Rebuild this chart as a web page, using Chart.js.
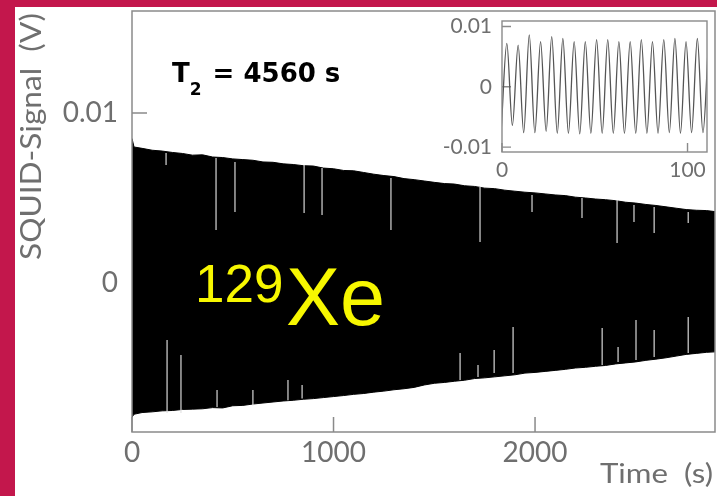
<!DOCTYPE html>
<html>
<head>
<meta charset="utf-8">
<script src="https://cdn.jsdelivr.net/npm/chart.js@4.4.1/dist/chart.umd.min.js"></script>
<style>
  html, body { margin: 0; padding: 0; background: #c3174c; }
  #page { position: absolute; left: 15px; top: 7px; width: 702px; height: 489px; background: #fff; }
  #main { position: absolute; left: 0; top: 0; }
  #inset { position: absolute; left: 430px; top: 8px; }
</style>
</head>
<body>
<div id="page"></div>
<canvas id="main" width="717" height="496"></canvas>
<canvas id="inset" width="287" height="180"></canvas>
<script>
// Enveloppe du signal, en secondes / volts
const envTime = [0, 10, 50, 100, 150, 200, 250, 300, 350, 400, 450, 500, 550, 600, 650, 700, 750, 800, 850, 900,
  950, 1000, 1050, 1100, 1150, 1200, 1250, 1300, 1350, 1400, 1450, 1500, 1550, 1600, 1650, 1700, 1750, 1800, 1850,
  1900, 1950, 2000, 2050, 2100, 2150, 2200, 2250, 2300, 2350, 2400, 2450, 2500, 2550, 2600, 2650, 2700, 2750, 2800,
  2850, 2893];
const envUpper = [0.0085, 0.0080, 0.00792, 0.00781, 0.00776, 0.00768, 0.00762, 0.00752, 0.00754, 0.00741, 0.00738,
  0.00730, 0.00726, 0.00722, 0.00712, 0.00710, 0.00701, 0.00697, 0.00690, 0.00688, 0.00676, 0.00672, 0.00662,
  0.00660, 0.00650, 0.00640, 0.00632, 0.00626, 0.00614, 0.00608, 0.00600, 0.00592, 0.00585, 0.00582, 0.00572,
  0.00568, 0.00558, 0.00555, 0.00546, 0.00540, 0.00534, 0.00530, 0.00524, 0.00518, 0.00514, 0.00505, 0.00500,
  0.00494, 0.00490, 0.00484, 0.00475, 0.00470, 0.00462, 0.00456, 0.00448, 0.00440, 0.00432, 0.00428, 0.00426,
  0.00420];
const envLower = [-0.0079, -0.00772, -0.00762, -0.00758, -0.00752, -0.00750, -0.00744, -0.00742, -0.00740, -0.00733,
  -0.00735, -0.00722, -0.00720, -0.00712, -0.00706, -0.00700, -0.00694, -0.00690, -0.00684, -0.00680, -0.00674,
  -0.00668, -0.00662, -0.00655, -0.00650, -0.00642, -0.00636, -0.00628, -0.00622, -0.00614, -0.00600, -0.00590,
  -0.00585, -0.00578, -0.00572, -0.00562, -0.00558, -0.00552, -0.00546, -0.00540, -0.00530, -0.00526, -0.00520,
  -0.00514, -0.00508, -0.00500, -0.00496, -0.00490, -0.00485, -0.00476, -0.00470, -0.00464, -0.00455, -0.00448,
  -0.00440, -0.00430, -0.00420, -0.00414, -0.00408, -0.00405];

// Trous blancs dans le signal : temps, début, fin
const dropTime = [169, 417, 511, 854, 943, 1285, 1727, 1985, 2233, 2407, 2491, 2591, 2760,
  174, 243, 422, 600, 774, 844, 1628, 1717, 1797, 1891, 2333, 2412, 2501, 2591, 2760];
const dropFrom = [0.00765, 0.00735, 0.00712, 0.00694, 0.00676, 0.00618, 0.00565, 0.00518, 0.0050, 0.00488, 0.00459, 0.00447, 0.00418,
  -0.00335, -0.00424, -0.0063, -0.0063, -0.0057, -0.0060, -0.00412, -0.00482, -0.00394, -0.00259, -0.00265, -0.00376, -0.00218, -0.00276, -0.0020];
const dropTo = [0.00694, 0.00312, 0.00418, 0.00412, 0.0040, 0.00312, 0.00241, 0.00418, 0.00382, 0.00235, 0.00359, 0.00294, 0.00353,
  -0.00765, -0.00765, -0.0073, -0.0072, -0.0069, -0.0068, -0.0057, -0.00553, -0.0053, -0.0053, -0.00482, -0.00465, -0.00453, -0.00435, -0.00412];

// Zoom 0-110 s
const insetTime = [-0.4, 2.6, 5.6, 8.7, 11.7, 14.7, 17.7, 20.8, 23.8, 26.8, 29.8, 32.8, 35.8, 38.9, 41.9, 44.9, 47.9,
  51.0, 54.0, 57.0, 60.0, 63.0, 66.0, 69.1, 72.1, 75.1, 78.1, 81.1, 84.1, 87.2, 90.2, 93.2, 96.2, 99.2, 102.2,
  105.3, 108.3, 111.3];
const insetValue = [-0.0070, 0.0072, -0.0064, 0.0069, -0.0076, 0.0086, -0.0076, 0.0075, -0.0074, 0.0083, -0.0077,
  0.0080, -0.0077, 0.0075, -0.0078, 0.0075, -0.0077, 0.0078, -0.0077, 0.0078, -0.0077, 0.0075, -0.0077, 0.0075,
  -0.0077, 0.0078, -0.0077, 0.0075, -0.0077, 0.0078, -0.0076, 0.0080, -0.0077, 0.0075, -0.0076, 0.0080, -0.0076,
  0.0075];

// graduations (toutes) et celles qui portent un label
const mainXTicks = [0, 500, 1000, 1500, 2000, 2500];
const mainXLabels = [0, 1000, 2000];
const mainYTicks = [-0.005, 0, 0.005, 0.01, 0.015];
const mainYLabels = [0, 0.01];
const insetXTicks = [0, 20, 40, 60, 80, 100];
const insetXLabels = [0, 100];
const insetYTicks = [-0.01, -0.005, 0, 0.005, 0.01];
const insetYLabels = [-0.01, 0, 0.01];

const GRIS = '#6f6f6f';
const CADRE = '#8a8a8a';
Chart.defaults.font.family = 'Lato';
Chart.defaults.color = GRIS;

const pick = list => v => {
  const m = list.find(l => Math.abs(l - v) < 1e-9);
  return m === undefined ? null : String(m);
};
const setTicks = list => s => { s.ticks = list.map(v => ({ value: v })); };
// taille fixe de l'axe, sans marge auto
const fixW = w => s => { s.width = w; s.paddingTop = 0; s.paddingBottom = 0; };
const fixH = h => s => { s.height = h; s.paddingLeft = 0; s.paddingRight = 0; };

// ticks vers l'intérieur + cadre
const frameTicks = {
  id: 'frameTicks',
  beforeDatasetsDraw(chart, args, o) {
    const { ctx, chartArea: a, scales: { x, y } } = chart;
    ctx.save();
    ctx.strokeStyle = CADRE;
    ctx.lineWidth = o.width;
    ctx.beginPath();
    x.ticks.forEach(t => {
      const px = x.getPixelForValue(t.value);
      const len = t.label ? o.major : o.minor;
      ctx.moveTo(px, a.bottom); ctx.lineTo(px, a.bottom - len);
    });
    y.ticks.forEach(t => {
      const py = y.getPixelForValue(t.value);
      const len = t.label ? o.major : o.minor;
      ctx.moveTo(a.left, py); ctx.lineTo(a.left + len, py);
    });
    ctx.stroke();
    ctx.restore();
  },
  afterDatasetsDraw(chart, args, o) {
    const { ctx, chartArea: a } = chart;
    ctx.save();
    ctx.strokeStyle = CADRE;
    ctx.lineWidth = o.width;
    ctx.strokeRect(a.left, a.top, a.width, a.height);
    ctx.restore();
  }
};

function fitText(ctx, txt, x, y, w) {
  const m = ctx.measureText(txt).width;
  ctx.save();
  ctx.translate(x, y);
  ctx.scale(w / m, 1);
  ctx.fillText(txt, 0, 0);
  ctx.restore();
}

const labels = {
  id: 'labels',
  afterDraw(chart) {
    const ctx = chart.ctx;
    ctx.save();
    ctx.fillStyle = GRIS;
    ctx.textBaseline = 'alphabetic';
    ctx.font = '26px Lato';
    fitText(ctx, 'Time  (s)', 600, 483, 113);
    ctx.save();
    ctx.translate(41, 260);
    ctx.rotate(-Math.PI / 2);
    ctx.font = '29px Lato';
    fitText(ctx, 'SQUID-Signal  (V)', 0, 0, 247);
    ctx.restore();

    // T2
    ctx.fillStyle = '#000';
    ctx.font = 'bold 26px "DejaVu Sans"';
    let cx = 172;
    ctx.fillText('T', cx, 82);
    cx += ctx.measureText('T').width;
    ctx.font = 'bold 17px "DejaVu Sans"';
    ctx.fillText('2', cx, 95);
    cx += ctx.measureText('2').width;
    ctx.font = 'bold 26px "DejaVu Sans"';
    ctx.fillText(' = 4560 s', cx + 2, 82);

    // 129Xe
    ctx.fillStyle = '#f7f700';
    ctx.font = '53px "Liberation Sans"';
    ctx.fillText('129', 195, 302);
    ctx.font = '81px "Liberation Sans"';
    ctx.fillText('Xe', 286, 325);
    ctx.restore();
  }
};

const pts = (xs, ys) => xs.map((t, i) => ({ x: t, y: ys[i] }));
const dropPts = [];
dropTime.forEach((t, i) => {
  dropPts.push({ x: t, y: dropFrom[i] }, { x: t, y: dropTo[i] }, { x: t, y: null });
});

new Chart(document.getElementById('main'), {
  type: 'line',
  data: {
    datasets: [
      { data: dropPts, borderColor: 'rgba(225,225,225,0.95)', borderWidth: 1.2, pointRadius: 0, spanGaps: false, order: 0 },
      { data: pts(envTime, envUpper), borderColor: '#000', borderWidth: 1, backgroundColor: '#000', fill: '+1', pointRadius: 0, order: 1 },
      { data: pts(envTime, envLower), borderColor: '#000', borderWidth: 1, fill: false, pointRadius: 0, order: 2 }
    ]
  },
  options: {
    responsive: false,
    animation: false,
    layout: { padding: { top: 11, right: 2, left: 0, bottom: 0 } },
    plugins: {
      legend: { display: false },
      tooltip: { enabled: false },
      frameTicks: { width: 1.5, major: 15, minor: 7 }
    },
    scales: {
      x: {
        type: 'linear', min: 0, max: 2893,
        grid: { display: false, drawTicks: false },
        border: { display: false },
        afterBuildTicks: setTicks(mainXTicks),
        ticks: { autoSkip: false, maxRotation: 0, padding: 4,
          font: { size: 28 }, color: GRIS, callback: pick(mainXLabels) },
        afterFit: fixH(64)
      },
      y: {
        min: -0.008765, max: 0.016,
        grid: { display: false, drawTicks: false },
        border: { display: false },
        afterBuildTicks: setTicks(mainYTicks),
        ticks: { autoSkip: false, padding: 14,
          font: { size: 28 }, color: GRIS, callback: pick(mainYLabels) },
        afterFit: fixW(132)
      }
    }
  },
  plugins: [frameTicks, labels]
});

new Chart(document.getElementById('inset'), {
  type: 'line',
  data: {
    datasets: [{
      data: pts(insetTime, insetValue), borderColor: '#555', borderWidth: 1.3, pointRadius: 0,
      cubicInterpolationMode: 'monotone', fill: false
    }]
  },
  options: {
    responsive: false,
    animation: false,
    layout: { padding: { top: 13, right: 10, left: 0, bottom: 0 } },
    plugins: {
      legend: { display: false },
      tooltip: { enabled: false },
      frameTicks: { width: 1.4, major: 9, minor: 4 }
    },
    scales: {
      x: {
        type: 'linear', min: 0, max: 110.5,
        grid: { display: false, drawTicks: false },
        border: { display: false },
        afterBuildTicks: setTicks(insetXTicks),
        ticks: { autoSkip: false, maxRotation: 0, padding: 6,
          font: { size: 21 }, color: GRIS, callback: pick(insetXLabels) },
        afterFit: fixH(36)
      },
      y: {
        min: -0.0108, max: 0.0109,
        grid: { display: false, drawTicks: false },
        border: { display: false },
        afterBuildTicks: setTicks(insetYTicks),
        ticks: { autoSkip: false, padding: 10,
          font: { size: 21 }, color: GRIS, callback: pick(insetYLabels) },
        afterFit: fixW(72)
      }
    }
  },
  plugins: [frameTicks]
});
</script>
</body>
</html>
